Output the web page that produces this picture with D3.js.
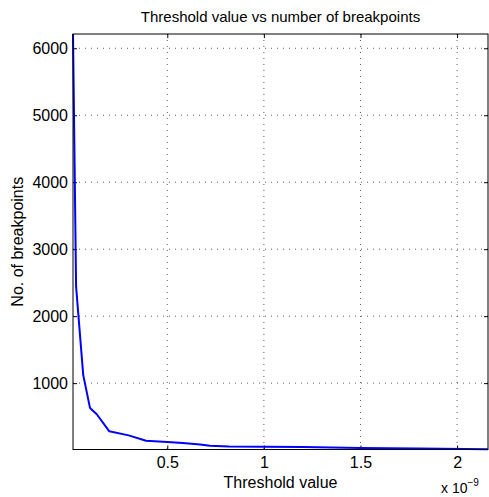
<!DOCTYPE html>
<html>
<head>
<meta charset="utf-8">
<script src="https://cdn.jsdelivr.net/npm/d3@7"></script>
<style>
  body { margin: 0; background: #fff; }
  text { font-family: "Liberation Sans", Arial, sans-serif; fill: #000; }
</style>
</head>
<body>
<div id="chart"></div>
<script>
// threshold values (x 1e-9) and number of breakpoints
const thresholds = [0.012, 0.028, 0.065, 0.10, 0.135, 0.20, 0.30, 0.39, 0.50, 0.58, 0.67, 0.72, 0.82, 1.0, 1.2, 1.5, 1.8, 2.16];
const breakpoints = [6213, 2440, 1120, 630, 535, 280, 220, 140, 120, 105, 85, 65, 55, 50, 45, 30, 25, 12];
const xTicks = [0.5, 1, 1.5, 2];
const yTicks = [1000, 2000, 3000, 4000, 5000, 6000];

const width = 489, height = 497;
const margin = {left: 73, top: 34, right: 1, bottom: 47.5};
const pw = width - margin.left - margin.right, ph = height - margin.top - margin.bottom;

const svg = d3.select("#chart").append("svg")
    .attr("width", width)
    .attr("height", height);

const x = d3.scaleLinear().domain([d3.min(thresholds), d3.max(thresholds)]).range([0, pw]);
const y = d3.scaleLinear().domain([d3.min(breakpoints) - 3, d3.max(breakpoints)]).range([ph, 0]);

const g = svg.append("g").attr("transform", "translate(" + margin.left + "," + margin.top + ")");

// grid
g.selectAll(".gx").data(xTicks).enter().append("line")
    .attr("x1", d => x(d)).attr("x2", d => x(d))
    .attr("y1", 0).attr("y2", ph)
    .attr("stroke", "#333").attr("stroke-width", 0.8).attr("stroke-dasharray", "1,5");
g.selectAll(".gy").data(yTicks).enter().append("line")
    .attr("x1", 0).attr("x2", pw)
    .attr("y1", d => y(d)).attr("y2", d => y(d))
    .attr("stroke", "#333").attr("stroke-width", 0.8).attr("stroke-dasharray", "1,5");

// axes (ticks inward, box)
g.append("g").attr("transform", "translate(0," + ph + ")")
    .call(d3.axisBottom(x).tickValues(xTicks).tickSizeInner(-4).tickSizeOuter(0).tickPadding(7).tickFormat(d3.format("")));
g.append("g")
    .call(d3.axisLeft(y).tickValues(yTicks).tickSizeInner(-4).tickSizeOuter(0).tickPadding(5).tickFormat(d3.format("")));
g.append("g")
    .call(d3.axisTop(x).tickValues(xTicks).tickSizeInner(-4).tickSizeOuter(0).tickFormat(""));
g.append("g").attr("transform", "translate(" + pw + ",0)")
    .call(d3.axisRight(y).tickValues(yTicks).tickSizeInner(-4).tickSizeOuter(0).tickFormat(""));
g.selectAll(".domain").remove();
g.selectAll(".tick line").attr("stroke", "#000");
g.selectAll(".tick text").style("font-size", "16px").attr("fill", "#000");

// line
g.append("path")
    .datum(thresholds.map((t, i) => [t, breakpoints[i]]))
    .attr("fill", "none")
    .attr("stroke", "#0000ff")
    .attr("stroke-width", 2)
    .attr("stroke-linejoin", "round")
    .attr("d", d3.line().x(d => x(d[0])).y(d => y(d[1])));

// box
g.append("rect").attr("width", pw).attr("height", ph)
    .attr("fill", "none").attr("stroke", "#000").attr("stroke-width", 1);

// labels
svg.append("text").attr("x", margin.left + pw / 2).attr("y", 22)
    .attr("text-anchor", "middle").style("font-size", "15px")
    .text("Threshold value vs number of breakpoints");
svg.append("text").attr("x", margin.left + pw / 2).attr("y", 488)
    .attr("text-anchor", "middle").style("font-size", "16px")
    .text("Threshold value");
svg.append("text").attr("transform", "translate(23," + (margin.top + ph / 2) + ") rotate(-90)")
    .attr("text-anchor", "middle").style("font-size", "16px")
    .text("No. of breakpoints");
const exp = svg.append("text").attr("x", 441).attr("y", 493).style("font-size", "14px");
exp.append("tspan").text("x 10");
exp.append("tspan").attr("dy", -7).style("font-size", "10px").text("\u22129");
</script>
</body>
</html>
